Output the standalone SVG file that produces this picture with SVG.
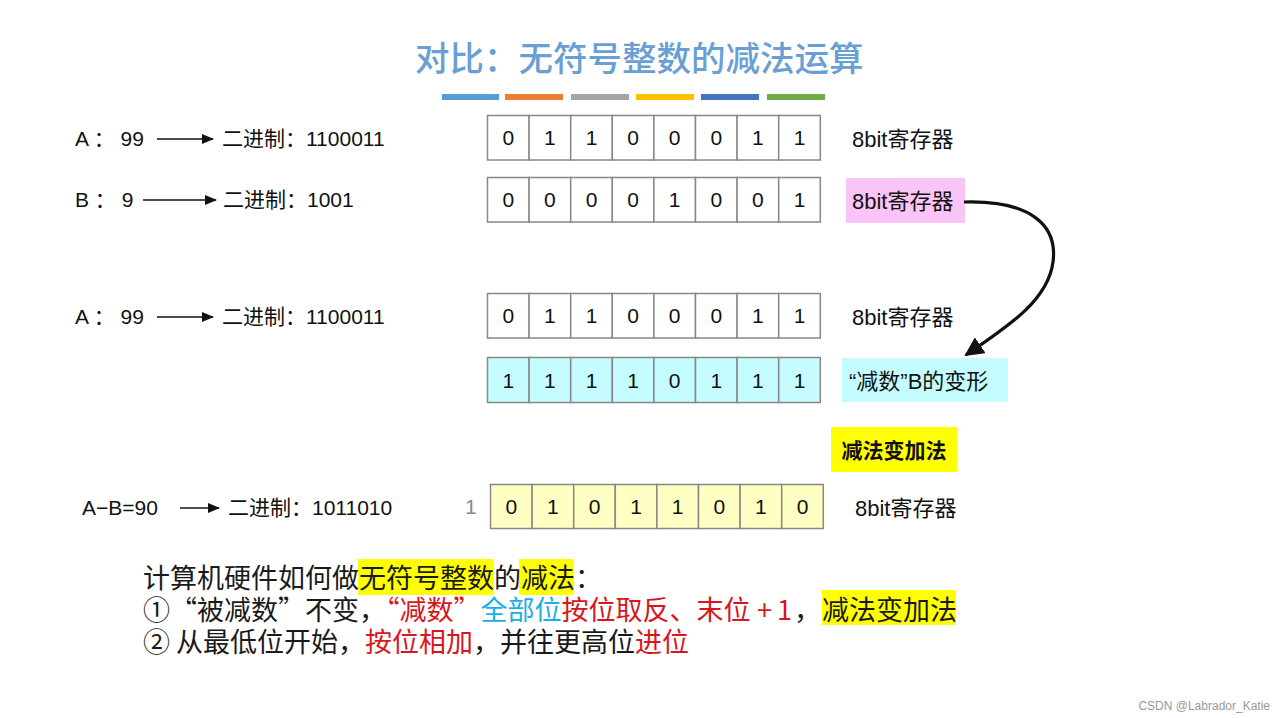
<svg xmlns="http://www.w3.org/2000/svg" width="1280" height="718" viewBox="0 0 1280 718">
<defs>
<style>
.t{font-family:"Liberation Sans","Noto Sans CJK SC",sans-serif;font-size:21px;fill:#111}
.lb{font-family:"Liberation Sans","Noto Sans CJK SC",sans-serif;font-size:22px;fill:#111}
.d{font-family:"Liberation Sans","Noto Sans CJK SC",sans-serif;font-size:21px;fill:#111;text-anchor:middle}
.c{stroke:#888;stroke-width:1.5}
.w{fill:#fff}
.cy{fill:#c4fcff}
.ye{fill:#ffffc4}
.ln{stroke:#111;stroke-width:1.5;fill:none}
.bt{font-family:"Noto Sans CJK SC",sans-serif;font-size:27px;fill:#1a1a1a}
.r{fill:#d8161c}
.b{fill:#1aaee6}
</style>
<marker id="ah" viewBox="0 0 12 10" refX="11" refY="5" markerWidth="12" markerHeight="10" markerUnits="userSpaceOnUse" orient="auto">
<path d="M0,0 L12,5 L0,10 Z" fill="#111"/>
</marker>
<marker id="ah2" viewBox="0 0 10 10" refX="9" refY="5" markerWidth="6" markerHeight="6" orient="auto">
<path d="M0,0 L10,5 L0,10 Z" fill="#111"/>
</marker>
</defs>
<rect width="1280" height="718" fill="#fff"/>

<g id="title">
<text x="415" y="71" style="font-family:'Noto Sans CJK SC',sans-serif;font-size:34.5px;font-weight:500;fill:#6a9fd4">对比：无符号整数的减法运算</text>
<rect x="442" y="94" width="57" height="6" fill="#5b9bd5"/>
<rect x="505" y="94" width="58" height="6" fill="#ed7d31"/>
<rect x="571" y="94" width="58" height="6" fill="#a5a5a5"/>
<rect x="636" y="94" width="58" height="6" fill="#ffc000"/>
<rect x="701" y="94" width="58" height="6" fill="#4472c4"/>
<rect x="767" y="94" width="58" height="6" fill="#70ad47"/>
</g>

<g id="labels-left">
<text class="t" x="75" y="146">A ： 99</text>
<text class="t" x="222" y="146">二进制：1100011</text>
<text class="t" x="75" y="207">B ： 9</text>
<text class="t" x="223" y="207">二进制：1001</text>
<text class="t" x="75" y="324">A ： 99</text>
<text class="t" x="222" y="324">二进制：1100011</text>
<text class="t" x="82" y="515">A−B=90</text>
<text class="t" x="228" y="515">二进制：1011010</text>
<text class="t" x="465" y="514" style="fill:#888">1</text>
</g>

<g id="reg-a1">
<rect class="c w" x="487.5" y="115.5" width="41.6" height="44.5"/><rect class="c w" x="529.1" y="115.5" width="41.6" height="44.5"/><rect class="c w" x="570.7" y="115.5" width="41.6" height="44.5"/><rect class="c w" x="612.3" y="115.5" width="41.6" height="44.5"/><rect class="c w" x="653.9" y="115.5" width="41.6" height="44.5"/><rect class="c w" x="695.5" y="115.5" width="41.6" height="44.5"/><rect class="c w" x="737.1" y="115.5" width="41.6" height="44.5"/><rect class="c w" x="778.7" y="115.5" width="41.6" height="44.5"/>
<text class="d" x="508.3" y="145">0</text><text class="d" x="549.9" y="145">1</text><text class="d" x="591.5" y="145">1</text><text class="d" x="633.1" y="145">0</text><text class="d" x="674.7" y="145">0</text><text class="d" x="716.3" y="145">0</text><text class="d" x="757.9" y="145">1</text><text class="d" x="799.5" y="145">1</text>
<text class="lb" x="852" y="147">8bit寄存器</text>
</g>

<g id="reg-b">
<rect class="c w" x="487.5" y="177.5" width="41.6" height="44.5"/><rect class="c w" x="529.1" y="177.5" width="41.6" height="44.5"/><rect class="c w" x="570.7" y="177.5" width="41.6" height="44.5"/><rect class="c w" x="612.3" y="177.5" width="41.6" height="44.5"/><rect class="c w" x="653.9" y="177.5" width="41.6" height="44.5"/><rect class="c w" x="695.5" y="177.5" width="41.6" height="44.5"/><rect class="c w" x="737.1" y="177.5" width="41.6" height="44.5"/><rect class="c w" x="778.7" y="177.5" width="41.6" height="44.5"/>
<text class="d" x="508.3" y="207">0</text><text class="d" x="549.9" y="207">0</text><text class="d" x="591.5" y="207">0</text><text class="d" x="633.1" y="207">0</text><text class="d" x="674.7" y="207">1</text><text class="d" x="716.3" y="207">0</text><text class="d" x="757.9" y="207">0</text><text class="d" x="799.5" y="207">1</text>
<rect x="846" y="178" width="119" height="45" fill="#fbc4f8"/>
<text class="lb" x="852" y="209">8bit寄存器</text>
</g>

<g id="reg-a2">
<rect class="c w" x="487.5" y="293.5" width="41.6" height="44.5"/><rect class="c w" x="529.1" y="293.5" width="41.6" height="44.5"/><rect class="c w" x="570.7" y="293.5" width="41.6" height="44.5"/><rect class="c w" x="612.3" y="293.5" width="41.6" height="44.5"/><rect class="c w" x="653.9" y="293.5" width="41.6" height="44.5"/><rect class="c w" x="695.5" y="293.5" width="41.6" height="44.5"/><rect class="c w" x="737.1" y="293.5" width="41.6" height="44.5"/><rect class="c w" x="778.7" y="293.5" width="41.6" height="44.5"/>
<text class="d" x="508.3" y="323">0</text><text class="d" x="549.9" y="323">1</text><text class="d" x="591.5" y="323">1</text><text class="d" x="633.1" y="323">0</text><text class="d" x="674.7" y="323">0</text><text class="d" x="716.3" y="323">0</text><text class="d" x="757.9" y="323">1</text><text class="d" x="799.5" y="323">1</text>
<text class="lb" x="852" y="325">8bit寄存器</text>
</g>

<g id="reg-bneg">
<rect class="c cy" x="487.5" y="357.5" width="41.6" height="45"/><rect class="c cy" x="529.1" y="357.5" width="41.6" height="45"/><rect class="c cy" x="570.7" y="357.5" width="41.6" height="45"/><rect class="c cy" x="612.3" y="357.5" width="41.6" height="45"/><rect class="c cy" x="653.9" y="357.5" width="41.6" height="45"/><rect class="c cy" x="695.5" y="357.5" width="41.6" height="45"/><rect class="c cy" x="737.1" y="357.5" width="41.6" height="45"/><rect class="c cy" x="778.7" y="357.5" width="41.6" height="45"/>
<text class="d" x="508.3" y="388">1</text><text class="d" x="549.9" y="388">1</text><text class="d" x="591.5" y="388">1</text><text class="d" x="633.1" y="388">1</text><text class="d" x="674.7" y="388">0</text><text class="d" x="716.3" y="388">1</text><text class="d" x="757.9" y="388">1</text><text class="d" x="799.5" y="388">1</text>
<rect x="842" y="358" width="166" height="44" fill="#c4fcff"/>
<text class="lb" x="849" y="389">“减数”B的变形</text>
</g>

<g id="note-sub-to-add">
<rect x="831" y="427" width="126" height="45" fill="#ffff00"/>
<text x="894" y="458" style="font-family:'Noto Sans CJK SC',sans-serif;font-size:21px;font-weight:bold;fill:#111;text-anchor:middle">减法变加法</text>
</g>

<g id="reg-result">
<rect class="c ye" x="490.5" y="484.5" width="41.6" height="44"/><rect class="c ye" x="532.1" y="484.5" width="41.6" height="44"/><rect class="c ye" x="573.7" y="484.5" width="41.6" height="44"/><rect class="c ye" x="615.3" y="484.5" width="41.6" height="44"/><rect class="c ye" x="656.9" y="484.5" width="41.6" height="44"/><rect class="c ye" x="698.5" y="484.5" width="41.6" height="44"/><rect class="c ye" x="740.1" y="484.5" width="41.6" height="44"/><rect class="c ye" x="781.7" y="484.5" width="41.6" height="44"/>
<text class="d" x="511.3" y="514">0</text><text class="d" x="552.9" y="514">1</text><text class="d" x="594.5" y="514">0</text><text class="d" x="636.1" y="514">1</text><text class="d" x="677.7" y="514">1</text><text class="d" x="719.3" y="514">0</text><text class="d" x="760.9" y="514">1</text><text class="d" x="802.5" y="514">0</text>
<text class="lb" x="855" y="516">8bit寄存器</text>
</g>

<g id="connectors">
<line class="ln" x1="157" y1="139" x2="213" y2="139" marker-end="url(#ah)"/>
<line class="ln" x1="143" y1="200" x2="216" y2="200" marker-end="url(#ah)"/>
<line class="ln" x1="157" y1="317" x2="213" y2="317" marker-end="url(#ah)"/>
<line class="ln" x1="180" y1="508" x2="219" y2="508" marker-end="url(#ah)"/>
<path d="M964,202 C1030,200 1058,225 1053,262 C1048,300 1010,325 966,355" fill="none" stroke="#111" stroke-width="3.2" marker-end="url(#ah2)"/>
</g>

<g id="explanation">
<rect x="358" y="559" width="136" height="36" fill="#ffff00"/>
<rect x="519" y="559" width="55" height="36" fill="#ffff00"/>
<rect x="822" y="590" width="134" height="35" fill="#ffff00"/>
<text class="bt" x="143" y="588">计算机硬件如何做无符号整数的减法：</text>
<text class="bt" x="143" y="620">①“被减数”不变，<tspan class="r">“减数”</tspan><tspan class="b">全部位</tspan><tspan class="r">按位取反、末位</tspan><tspan class="r" x="757">+</tspan><tspan class="r" x="777">1</tspan><tspan x="794">，</tspan><tspan x="822">减法变加法</tspan></text>
<text class="bt" x="143" y="652">② 从最低位开始，<tspan class="r">按位相加</tspan>，并往更高位<tspan class="r">进位</tspan></text>
</g>

<text x="1270" y="710" style="font-family:'Liberation Sans',sans-serif;font-size:12px;fill:#999;text-anchor:end">CSDN @Labrador_Katie</text>
</svg>
